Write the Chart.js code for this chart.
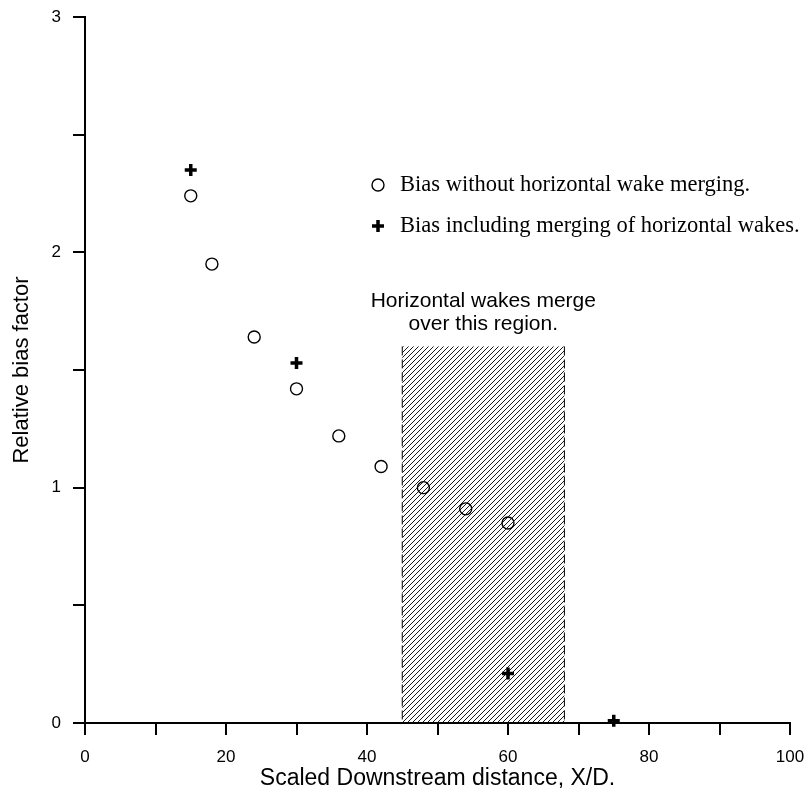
<!DOCTYPE html>
<html>
<head>
<meta charset="utf-8">
<script src="https://cdn.jsdelivr.net/npm/chart.js@4"></script>
<style>
  html, body { margin: 0; padding: 0; background: #fff; }
  #wrap { width: 808px; height: 795px; }
</style>
</head>
<body>
<div id="wrap"><canvas id="bias"></canvas></div>
<script>
// distances X/D and bias values
const xNoMerge = [15, 18, 24, 30, 36, 42, 48, 54, 60]
const yNoMerge = [2.24, 1.95, 1.64, 1.42, 1.22, 1.09, 1.00, 0.91, 0.85]
const xMerge = [15, 30, 60, 75]
const yMerge = [2.35, 1.53, 0.21, 0.01]

const seriesLabels = [
    'Bias without horizontal wake merging.',
    'Bias including merging of horizontal wakes.'
]
const regionFrom = 45
const regionTo = 68
const regionTop = 1.6
const regionText = ['Horizontal wakes merge', 'over this region.']

const toPoints = (xs, ys) => xs.map((x, i) => ({ x: x, y: ys[i] }))

function hatchPattern(ctx) {
    const c = document.createElement('canvas')
    c.width = 5
    c.height = 5
    const p = c.getContext('2d')
    p.strokeStyle = '#000'
    p.lineWidth = 0.9
    p.beginPath()
    p.moveTo(-1, 6); p.lineTo(6, -1)
    p.moveTo(-1, 1); p.lineTo(1, -1)
    p.moveTo(4, 6); p.lineTo(6, 4)
    p.stroke()
    return ctx.createPattern(c, 'repeat')
}

const mergeRegion = {
    id: 'mergeRegion',
    beforeDatasetsDraw(chart) {
        const ctx = chart.ctx
        const xs = chart.scales.x, ys = chart.scales.y
        const l = xs.getPixelForValue(regionFrom)
        const r = xs.getPixelForValue(regionTo)
        const t = ys.getPixelForValue(regionTop)
        const b = ys.getPixelForValue(0)
        ctx.save()
        ctx.fillStyle = hatchPattern(ctx)
        ctx.fillRect(l, t, r - l, b - t)
        ctx.strokeStyle = '#000'
        ctx.lineWidth = 1
        ctx.setLineDash([9, 4])
        ctx.beginPath()
        ctx.moveTo(l, t); ctx.lineTo(l, b)
        ctx.moveTo(r, t); ctx.lineTo(r, b)
        ctx.stroke()
        ctx.setLineDash([])
        ctx.fillStyle = '#000'
        ctx.font = '21px "Liberation Sans", Arial, sans-serif'
        ctx.textAlign = 'center'
        ctx.textBaseline = 'middle'
        const cx = (l + r) / 2
        ctx.fillText(regionText[0], cx, t - 45)
        ctx.fillText(regionText[1], cx, t - 22)
        ctx.restore()
    },
    afterDraw(chart) {
        // legend inside the plot area
        const ctx = chart.ctx
        ctx.save()
        ctx.fillStyle = '#000'
        ctx.strokeStyle = '#000'
        ctx.font = '22.5px "Liberation Serif", "Times New Roman", serif'
        ctx.textBaseline = 'middle'
        ctx.textAlign = 'left'
        const mx = 378, tx = 400
        ctx.lineWidth = 1.4
        ctx.beginPath()
        ctx.arc(mx, 185, 6, 0, Math.PI * 2)
        ctx.stroke()
        ctx.fillText(seriesLabels[0], tx, 185)
        ctx.lineWidth = 3.5
        ctx.beginPath()
        ctx.moveTo(mx - 6, 226); ctx.lineTo(mx + 6, 226)
        ctx.moveTo(mx, 220); ctx.lineTo(mx, 232)
        ctx.stroke()
        ctx.fillText(seriesLabels[1], tx, 226)
        ctx.restore()
    }
}

const tickFont = { family: '"Liberation Sans", Arial, sans-serif', size: 17 }
const titleFont = { family: '"Liberation Sans", Arial, sans-serif', size: 23 }

const bias = new Chart(
    document.getElementById('bias'),
    {
        type: 'scatter',
        data: {
            datasets: [{
                label: seriesLabels[0],
                data: toPoints(xNoMerge, yNoMerge),
                pointStyle: 'circle',
                pointRadius: 6,
                borderColor: '#000',
                backgroundColor: 'rgba(0,0,0,0)',
                borderWidth: 1.4,
                clip: false,
            }, {
                label: seriesLabels[1],
                data: toPoints(xMerge, yMerge),
                pointStyle: 'cross',
                pointRadius: 6,
                borderColor: '#000',
                backgroundColor: '#000',
                borderWidth: 3.5,
                clip: false,
            }]
        },
        options: {
            responsive: true,
            maintainAspectRatio: false,
            animation: false,
            layout: { padding: { top: 17, right: 18, left: 0, bottom: 0 } },
            plugins: {
                legend: { display: false },
                tooltip: { enabled: false },
            },
            scales: {
                x: {
                    type: 'linear',
                    min: 0,
                    max: 100,
                    afterFit: (s) => { s.height = 72; s.paddingLeft = 0; s.paddingRight = 0 },
                    border: { display: true, color: '#000', width: 2 },
                    grid: { drawOnChartArea: false, drawTicks: true, tickLength: 12, color: '#000', lineWidth: 2 },
                    ticks: {
                        stepSize: 10,
                        color: '#000',
                        font: tickFont,
                        padding: 12,
                        maxRotation: 0,
                        callback: (v) => v % 20 === 0 ? v : '',
                    },
                    title: {
                        display: true,
                        text: 'Scaled Downstream distance, X/D.',
                        color: '#000',
                        font: titleFont,
                        padding: { top: 3, bottom: 3 },
                    }
                },
                y: {
                    type: 'linear',
                    min: 0,
                    max: 3,
                    afterFit: (s) => { s.width = 85; s.paddingTop = 0; s.paddingBottom = 0 },
                    border: { display: true, color: '#000', width: 2 },
                    grid: { drawOnChartArea: false, drawTicks: true, tickLength: 12, color: '#000', lineWidth: 2 },
                    ticks: {
                        stepSize: 0.5,
                        color: '#000',
                        font: tickFont,
                        padding: 12,
                        callback: (v) => Number.isInteger(v) ? v : '',
                    },
                    title: {
                        display: true,
                        text: 'Relative bias factor',
                        color: '#000',
                        font: { family: titleFont.family, size: 22 },
                        padding: { top: 9, bottom: 0 },
                    }
                }
            }
        },
        plugins: [mergeRegion]
    }
)
</script>
</body>
</html>
